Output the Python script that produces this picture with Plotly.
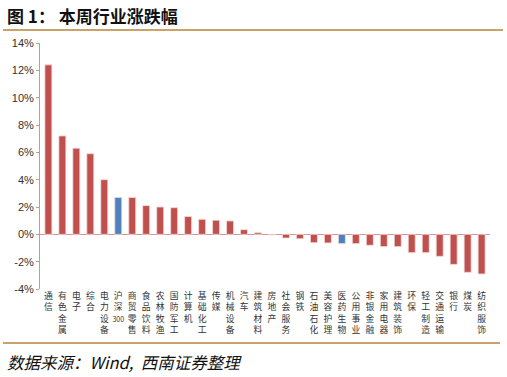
import plotly.graph_objects as go

categories = ["通信", "有色金属", "电子", "综合", "电力设备", "沪深300", "商贸零售", "食品饮料",
              "农林牧渔", "国防军工", "计算机", "基础化工", "传媒", "机械设备", "汽车", "建筑材料",
              "房地产", "社会服务", "钢铁", "石油石化", "美容护理", "医药生物", "公用事业", "非银金融",
              "家用电器", "建筑装饰", "环保", "轻工制造", "交通运输", "银行", "煤炭", "纺织服饰"]
values = [12.4, 7.2, 6.3, 5.9, 4.0, 2.7, 2.7, 2.1,
          2.0, 1.95, 1.3, 1.1, 1.03, 0.98, 0.34, 0.12,
          -0.05, -0.27, -0.32, -0.61, -0.63, -0.68, -0.68, -0.8,
          -0.9, -0.9, -1.34, -1.34, -1.61, -2.2, -2.78, -2.9]
highlight = ["沪深300", "医药生物"]
tick_vals = [-4, -2, 0, 2, 4, 6, 8, 10, 12, 14]
tick_text = ["-4%", "-2%", "0%", "2%", "4%", "6%", "8%", "10%", "12%", "14%"]


def stack(label):
    if label.endswith("300"):
        return "<br>".join(list(label[:-3])) + "<br><span style='font-size:7px'>300</span>"
    return "<br>".join(list(label))


colors = ["#4F81BD" if c in highlight else "#C0504D" for c in categories]

fig = go.Figure(go.Bar(
    x=categories, y=values, marker=dict(color=colors, line=dict(color="#F2DCDB", width=0.8)),
    width=0.5,
))

W, H = 507, 377
L, R, T, B = 40, 17, 43, 88
ph = H - T - B
pw = W - L - R


def py(Y):
    return (H - B - Y) / ph


def px(X):
    return (X - L) / pw


fig.update_layout(
    width=W, height=H,
    margin=dict(l=L, r=R, t=T, b=B, autoexpand=False),
    paper_bgcolor="white", plot_bgcolor="white",
    showlegend=False,
    font=dict(family="Liberation Sans, Arial, Noto Sans CJK SC", size=11, color="#333333"),
    xaxis=dict(
        tickmode="array", tickvals=categories, ticktext=[stack(c) for c in categories],
        tickfont=dict(family="Noto Sans CJK SC", size=8.8, color="#333333"),
        showline=False, ticks="", showgrid=False, zeroline=False, automargin=False,
        range=[-0.6, len(categories) - 0.4], tickangle=0,
    ),
    yaxis=dict(
        range=[-4, 14], tickvals=tick_vals, ticktext=tick_text, automargin=False,
        showgrid=False, zeroline=True, zerolinecolor="#D99694", zerolinewidth=1.2,
        showline=True, linecolor="#A6A6A6", linewidth=1,
        ticks="outside", ticklen=3, tickcolor="#A6A6A6",
        tickfont=dict(family="Liberation Sans, Arial", size=11, color="#333333"),
    ),
    shapes=[
        dict(type="line", xref="paper", yref="paper", x0=px(3), x1=px(503), y0=py(30), y1=py(30),
             line=dict(color="#C9A469", width=2)),
        dict(type="line", xref="paper", yref="paper", x0=px(3), x1=px(500), y0=py(343), y1=py(343),
             line=dict(color="#C9A469", width=2)),
    ],
    annotations=[
        dict(text="<b>图 1：&nbsp;本周行业涨跌幅</b>", xref="paper", yref="paper", x=px(5), y=py(15),
             xanchor="left", yanchor="middle", showarrow=False,
             font=dict(family="Noto Sans CJK SC", size=17, color="#111111")),
        dict(text="<i>数据来源：Wind,&nbsp;&nbsp;西南证券整理</i>", xref="paper", yref="paper", x=px(5), y=py(362),
             xanchor="left", yanchor="middle", showarrow=False,
             font=dict(family="Noto Sans CJK SC", size=16.5, color="#111111")),
    ],
)

fig.write_html("out.html", config={"displayModeBar": False},
               post_script="document.body.style.margin='0';document.body.style.overflow='hidden';")
